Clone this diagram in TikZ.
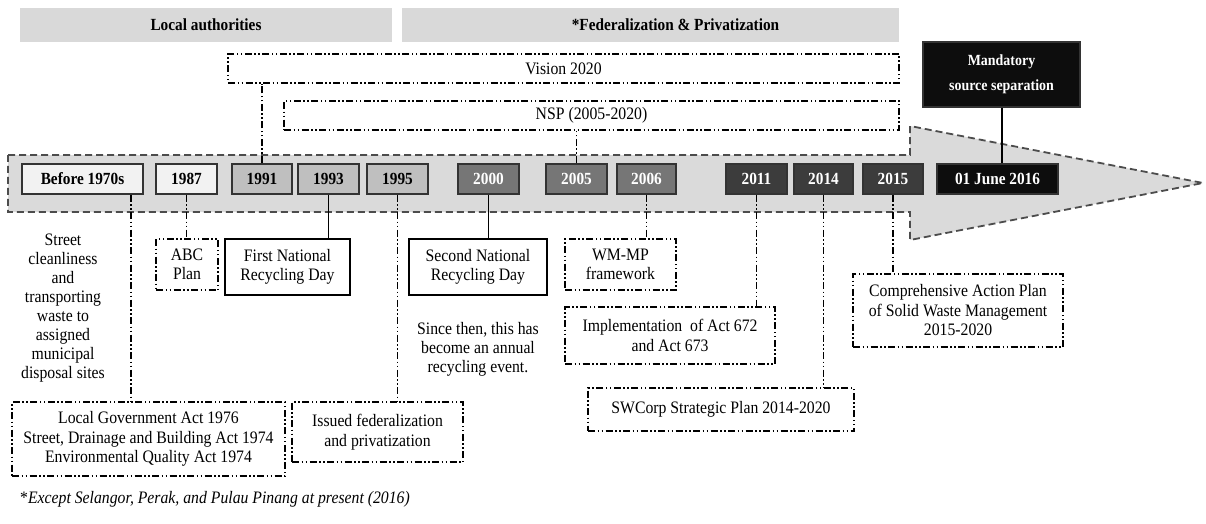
\documentclass[tikz,border=0pt]{standalone}
\usepackage{fontspec}
\setmainfont{Liberation Serif}[FakeStretch=0.9]
\usetikzlibrary{calc}

\definecolor{gristete}{HTML}{D9D9D9}
\definecolor{grisbande}{HTML}{DADADA}
\definecolor{anneeA}{HTML}{F2F2F2}
\definecolor{anneeB}{HTML}{BFBFBF}
\definecolor{anneeC}{HTML}{767676}
\definecolor{anneeD}{HTML}{3C3C3C}
\definecolor{anneeE}{HTML}{0D0D0D}

\begin{document}
\begin{tikzpicture}[x=1pt, y=-1pt, line join=miter,
  tete/.style={fill=gristete, inner sep=0pt, minimum height=34pt, font=\fontsize{17}{20}\selectfont\bfseries},
  annee/.style={draw=black!80, line width=1.2pt, inner sep=0pt, minimum height=30pt, font=\fontsize{17}{20}\selectfont\bfseries},
  tiret/.style={line width=1.6pt, dash pattern=on 7pt off 2.5pt on 1.5pt off 2.5pt on 1.5pt off 2.5pt},
  cadre/.style={draw, tiret, inner sep=0pt, align=center, font=\fontsize{17.5}{19.5}\selectfont},
  plein/.style={draw, line width=1.5pt, inner sep=0pt, align=center, font=\fontsize{17.5}{19.5}\selectfont},
  texte/.style={inner sep=0pt, align=center, font=\fontsize{17.5}{19}\selectfont}]

\useasboundingbox (0,0) rectangle (1206,524);

%% Les deux périodes.

\node[tete, minimum width=372pt] (local) at (206,25) {Local authorities};
\node[tete, minimum width=497pt] (feder) at (650.5,25) {\hspace*{50pt}*Federalization \& Privatization};

%% Plans de longue durée.

\node[cadre, minimum width=671pt, minimum height=29pt] (vision) at (563.5,68.5) {Vision 2020};
\node[cadre, minimum width=615pt, minimum height=29pt] (nsp) at (591.5,115.5) {NSP (2005-2020)};
\node[fill=anneeE, draw=black!80, line width=1.2pt, inner sep=0pt, minimum width=157pt, minimum height=65pt,
  align=center, text=white, font=\fontsize{15.5}{25}\selectfont\bfseries] (mandat) at (1001.5,74.5)
  {Mandatory\\source separation};

%% La flèche du temps.

\draw[fill=grisbande, draw=black!70, line width=1.8pt, dash pattern=on 7pt off 4pt]
  (8,155) -- (910,155) -- (910,126) -- (1203,183) -- (910,240) -- (910,212) -- (8,212) -- cycle;

%% Les années.

\node[annee, fill=anneeA, minimum width=121pt] (avant) at (82.5,179) {Before 1970s};
\node[annee, fill=anneeA, minimum width=61pt] (a1987) at (186.5,179) {1987};
\node[annee, fill=anneeB, minimum width=60pt] (a1991) at (262,179) {1991};
\node[annee, fill=anneeB, minimum width=61pt] (a1993) at (328.5,179) {1993};
\node[annee, fill=anneeB, minimum width=61pt] (a1995) at (397.5,179) {1995};
\node[annee, fill=anneeC, minimum width=61pt, text=white] (a2000) at (488.5,179) {2000};
\node[annee, fill=anneeC, minimum width=61pt, text=white] (a2005) at (576.5,179) {2005};
\node[annee, fill=anneeC, minimum width=59pt, text=white] (a2006) at (646.5,179) {2006};
\node[annee, fill=anneeD, minimum width=61pt, text=white] (a2011) at (756.5,179) {2011};
\node[annee, fill=anneeD, minimum width=59pt, text=white] (a2014) at (823.5,179) {2014};
\node[annee, fill=anneeD, minimum width=60pt, text=white] (a2015) at (893,179) {2015};
\node[annee, fill=anneeE, minimum width=121pt, text=white] (a2016) at (997.5,179) {01 June 2016};

%% Les événements.

\node[texte] (rue) at (63,308) {Street\\cleanliness\\and\\transporting\\waste to\\assigned\\municipal\\disposal sites};
\node[cadre, minimum width=62pt, minimum height=51pt] (abc) at (187,264.5) {ABC\\Plan};
\node[plein, minimum width=125pt, minimum height=56pt] (premier) at (287.5,267) {First National\\Recycling Day};
\node[plein, minimum width=138pt, minimum height=56pt] (second) at (478,267) {Second National\\Recycling Day};
\node[texte] (depuis) at (478,349) {Since then, this has\\become an annual\\recycling event.};
\node[cadre, minimum width=111pt, minimum height=51pt] (wmmp) at (620.5,264.5) {WM-MP\\framework};
\node[cadre, minimum width=210pt, minimum height=57pt] (actes) at (670,335.5) {Implementation\ \ of Act 672\\and Act 673};
\node[cadre, minimum width=266pt, minimum height=43pt] (swcorp) at (721,409.5) {SWCorp Strategic Plan 2014-2020};
\node[cadre, minimum width=210pt, minimum height=73pt] (compr) at (958,310.5)
  {Comprehensive Action Plan\\of Solid Waste Management\\2015-2020};
\node[cadre, minimum width=273pt, minimum height=74pt] (lois) at (148.5,439)
  {Local Government Act 1976\\Street, Drainage and Building Act 1974\\Environmental Quality Act 1974};
\node[cadre, minimum width=171pt, minimum height=60pt] (emis) at (377.5,432) {Issued federalization\\and privatization};

%% Les liens.

\coordinate (avantbas) at ($(avant.south)+(48.5,0)$);
\draw[tiret] (a1991.north) -- (a1991.north |- vision.south);
\draw[tiret] (a2005.north) -- (a2005.north |- nsp.south);
\draw[line width=2pt] (mandat.south) -- (mandat.south |- a2016.north);
\draw[tiret] (avantbas) -- (avantbas |- lois.north);
\draw[tiret] (a1987.south) -- (a1987.south |- abc.north);
\draw[line width=1.5pt] (a1993.south) -- (a1993.south |- premier.north);
\draw[tiret] (a1995.south) -- (a1995.south |- emis.north);
\draw[line width=1.5pt] (a2000.south) -- (a2000.south |- second.north);
\draw[tiret] (a2006.south) -- (a2006.south |- wmmp.north);
\draw[tiret] (a2011.south) -- (a2011.south |- actes.north);
\draw[tiret] (a2014.south) -- (a2014.south |- swcorp.north);
\draw[tiret] (a2015.south) -- (a2015.south |- compr.north);

%% Note.

\node[anchor=west, inner sep=0pt, font=\fontsize{17.5}{20}\selectfont] (note) at (20,499)
  {*\textit{Except Selangor, Perak, and Pulau Pinang at present (2016)}};

\end{tikzpicture}
\end{document}
